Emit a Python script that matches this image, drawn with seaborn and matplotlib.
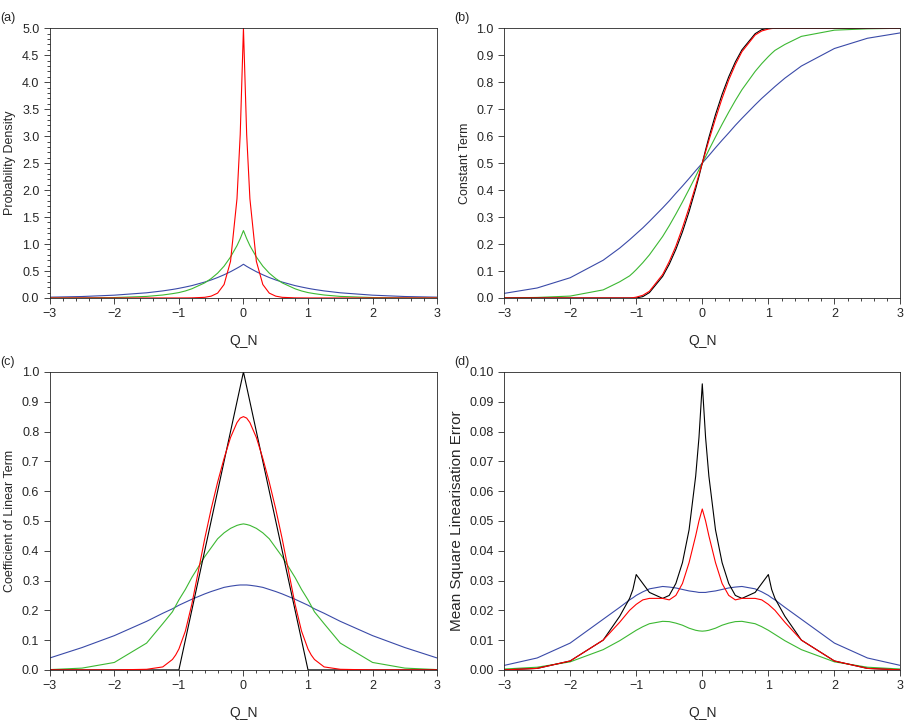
import numpy as np
import matplotlib
matplotlib.use("Agg")
import matplotlib.pyplot as plt
from matplotlib.ticker import MultipleLocator
import seaborn as sns

sns.set_style("ticks")
plt.rcParams['font.family'] = ['Liberation Sans', 'DejaVu Sans']

# half grid, x >= 0 (curves are symmetric)
xh = np.array([0, 0.05, 0.1, 0.2, 0.3, 0.4, 0.5, 0.6, 0.8, 0.9, 1.0, 1.05, 1.1, 1.25, 1.5, 2.0, 2.5, 3.0])

pdf_red = [5, 3.03, 1.84, 0.68, 0.25, 0.09, 0.034, 0.012, 0.002, 0.001, 0, 0, 0, 0, 0, 0, 0, 0]
pdf_green = [1.25, 1.10, 0.97, 0.76, 0.59, 0.46, 0.36, 0.28, 0.17, 0.13, 0.10, 0.09, 0.08, 0.055, 0.029, 0.008, 0.002, 0.0007]
pdf_blue = [0.625, 0.586, 0.552, 0.487, 0.43, 0.379, 0.334, 0.295, 0.229, 0.203, 0.179, 0.168, 0.158, 0.131, 0.096, 0.052, 0.027, 0.015]

const_black = [.5, .549, .595, .68, .755, .82, .875, .92, .98, .995, 1, 1, 1, 1, 1, 1, 1, 1]
const_red = [.5, .542, .584, .665, .74, .808, .865, .913, .975, .99, .997, .999, 1, 1, 1, 1, 1, 1]
const_green = [.5, .524, .549, .597, .644, .689, .732, .772, .84, .869, .895, .907, .918, .94, .97, .993, .998, 1]
const_blue = [.5, .514, .528, .557, .585, .612, .64, .666, .716, .74, .762, .773, .784, .815, .86, .925, .963, .983]

lin_black = [1, .95, .9, .8, .7, .6, .5, .4, .2, .1, 0, 0, 0, 0, 0, 0, 0, 0]
lin_red = [.85, .845, .83, .78, .71, .63, .54, .44, .22, .13, .07, .05, .035, .01, .002, 0, 0, 0]
lin_green = [.49, .488, .485, .475, .46, .44, .41, .38, .31, .27, .235, .215, .195, .155, .09, .025, .006, .001]
lin_blue = [.285, .285, .284, .281, .277, .27, .263, .255, .237, .227, .217, .211, .205, .19, .163, .115, .075, .04]

err_black = [.096, .078, .065, .047, .036, .029, .025, .024, .026, .029, .032, .027, .024, .018, .010, .003, .0005, 0]
err_red = [.054, .050, .045, .036, .029, .025, .0235, .024, .024, .0235, .022, .021, .020, .016, .010, .003, .0005, 0]
err_green = [.013, .0131, .0133, .014, .015, .0157, .0162, .0163, .0155, .0145, .0133, .0126, .0119, .0098, .0068, .0027, .0009, .0003]
err_blue = [.026, .026, .0262, .0265, .027, .0275, .0278, .028, .0272, .0262, .025, .0242, .0235, .021, .017, .009, .004, .0015]

cols = {"black": "black", "red": "#ff0000", "green": "#3cb832", "blue": "#3a4aa8"}


def mirror(v):
    v = np.asarray(v, float)
    return np.concatenate([v[:0:-1], v])


xfull = np.concatenate([-xh[:0:-1], xh])

fig = plt.figure(figsize=(9.05, 7.25), dpi=100)
pos = {"a": [0.055, 0.589, 0.428, 0.372], "b": [0.557, 0.589, 0.438, 0.372],
       "c": [0.055, 0.076, 0.428, 0.411], "d": [0.557, 0.076, 0.438, 0.411]}
panels = [
    ("a", "Probability Density", [("blue", pdf_blue), ("green", pdf_green), ("red", pdf_red)], 5.0, 0.5, 0.1, 1),
    ("b", "Constant Term", [("blue", const_blue), ("green", const_green), ("black", const_black), ("red", const_red)], 1.0, 0.1, None, 1),
    ("c", "Coefficient of Linear Term", [("blue", lin_blue), ("green", lin_green), ("black", lin_black), ("red", lin_red)], 1.0, 0.1, None, 1),
    ("d", "Mean Square Linearisation Error", [("blue", err_blue), ("green", err_green), ("black", err_black), ("red", err_red)], 0.10, 0.01, None, 2),
]

for key, ylab, lines, ymax, ymaj, ymin_, dec in panels:
    ax = fig.add_axes(pos[key])
    for c, v in lines:
        if key == "b":
            y = np.concatenate([1 - np.asarray(v, float)[:0:-1], v])
        else:
            y = mirror(v)
        sns.lineplot(x=xfull, y=y, color=cols[c], lw=0.8, ax=ax, sort=False)
    ax.set_xlim(-3, 3)
    ax.set_ylim(0, ymax)
    ax.xaxis.set_major_locator(MultipleLocator(1))
    ax.xaxis.set_minor_locator(MultipleLocator(0.2))
    ax.yaxis.set_major_locator(MultipleLocator(ymaj))
    if ymin_:
        ax.yaxis.set_minor_locator(MultipleLocator(ymin_))
    ax.yaxis.set_major_formatter(plt.FormatStrFormatter("%." + str(dec) + "f"))
    ax.xaxis.set_major_formatter(plt.FuncFormatter(lambda v, p: f"{int(v)}".replace("-", "\u2212")))
    ax.tick_params(which="both", direction="out", labelsize=9, width=0.6)
    ax.tick_params(which="major", length=4)
    ax.tick_params(which="minor", length=2)
    for s in ax.spines.values():
        s.set_linewidth(0.6)
    ax.set_xlabel("Q_N", fontsize=10, labelpad=10)
    ax.set_ylabel(ylab, fontsize=11 if key == "d" else 9)
    fig.text(pos[key][0] - 0.055, pos[key][1] + pos[key][3] + 0.01, f"({key})", fontsize=9)

fig.savefig("out.png", dpi=100)
